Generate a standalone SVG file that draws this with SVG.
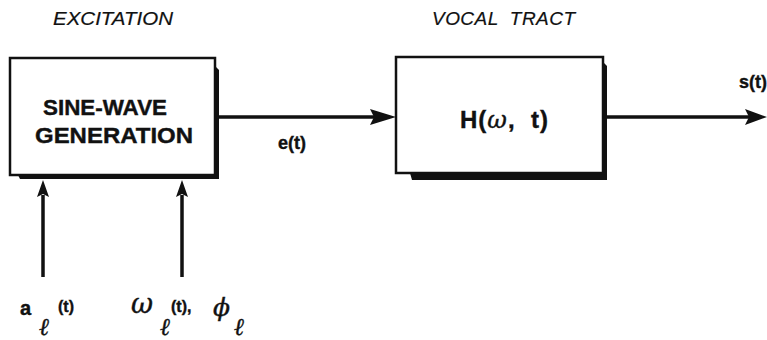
<svg xmlns="http://www.w3.org/2000/svg" width="767" height="340" viewBox="0 0 767 340">
  <style>
    .box { fill: #fff; stroke: #111; stroke-width: 2.5; }
    .shadow { fill: #111; }
    .wire { stroke: #111; stroke-width: 3.5; fill: none; }
    .head { fill: #111; }
    .title { font-family: "Liberation Sans", Arial, sans-serif; font-style: italic; font-size: 19px; fill: #111; stroke: #111; stroke-width: 0.2; }
    .lbl { font-family: "Liberation Sans", Arial, sans-serif; font-weight: bold; fill: #111; stroke: #111; stroke-width: 0.4; }
    .greek { font-family: "DejaVu Serif", "Liberation Serif", serif; font-style: italic; fill: #111; stroke: #111; stroke-width: 0.4; }
  </style>

  <rect width="767" height="340" fill="#fff"/>

  <!-- section headings -->
  <text class="title" x="53" y="25" textLength="120" lengthAdjust="spacingAndGlyphs">EXCITATION</text>
  <text class="title" x="432" y="25" textLength="143" lengthAdjust="spacing" xml:space="preserve">VOCAL  TRACT</text>

  <!-- excitation block -->
  <g id="sine-wave-generation">
    <polygon class="shadow" points="215,66 219,70 219,179 20,179 18,175 215,175"/>
    <rect class="box" x="10" y="58" width="205" height="117"/>
    <text class="lbl" x="43" y="115" font-size="22" textLength="124" lengthAdjust="spacingAndGlyphs">SINE-WAVE</text>
    <text class="lbl" x="35" y="143" font-size="22" textLength="158" lengthAdjust="spacingAndGlyphs">GENERATION</text>
  </g>

  <!-- vocal tract filter block -->
  <g id="vocal-tract">
    <polygon class="shadow" points="603,62 607,66 607,180 412,180 410,173 603,173"/>
    <rect class="box" x="396" y="57" width="207" height="116"/>
    <text class="lbl" x="460" y="128" font-size="24" textLength="88" lengthAdjust="spacing" xml:space="preserve">H(<tspan class="greek" font-weight="normal">ω</tspan>,  t)</text>
  </g>

  <!-- input parameter labels -->
  <g id="amplitude-input">
    <text class="lbl" x="20" y="315" font-size="20">a</text>
    <text class="greek" x="39" y="335" font-size="24">ℓ</text>
    <text class="lbl" x="58" y="312" font-size="16">(t)</text>
  </g>
  <g id="frequency-phase-input">
    <text class="greek" x="131" y="313" font-size="27">ω</text>
    <text class="greek" x="160" y="335" font-size="24">ℓ</text>
    <text class="lbl" x="171" y="312" font-size="16">(t),</text>
    <text class="greek" x="213" y="316" font-size="25">ϕ</text>
    <text class="greek" x="234" y="335" font-size="24">ℓ</text>
  </g>

  <!-- signal labels -->
  <text class="lbl" x="278" y="149" font-size="18">e(t)</text>
  <text class="lbl" x="739" y="88" font-size="18">s(t)</text>

  <!-- connectors -->
  <g id="connectors">
    <line class="wire" x1="219" y1="117" x2="375" y2="117"/>
    <polygon class="head" points="396,117 370,109 374,117 370,125"/>
    <line class="wire" x1="607" y1="117" x2="750" y2="117"/>
    <polygon class="head" points="767,117 745,109 749,117 745,125"/>
    <line class="wire" x1="43" y1="277" x2="43" y2="195"/>
    <polygon class="head" points="43,180 37,197 43,194 49,197"/>
    <line class="wire" x1="182" y1="277" x2="182" y2="195"/>
    <polygon class="head" points="182,180 176,197 182,194 188,197"/>
  </g>
</svg>
